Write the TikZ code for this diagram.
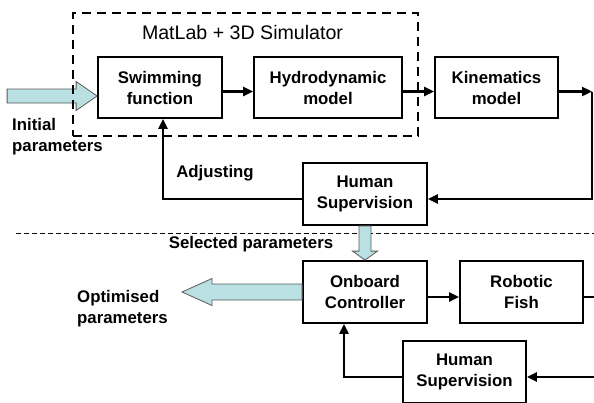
\documentclass[tikz,border=0pt]{standalone}
\usepackage{fontspec}
\setmainfont{Liberation Sans}
\usetikzlibrary{arrows.meta,calc}
\definecolor{pale}{RGB}{185,224,227}
\begin{document}
\begin{tikzpicture}[x=1pt,y=-1pt,
  box/.style={draw,line width=1.8pt,minimum width=#1,minimum height=61pt,inner sep=0pt,align=center,font=\bfseries\fontsize{16.8}{21}\selectfont},
  lbl/.style={font=\bfseries\fontsize{16.8}{21}\selectfont,align=left,inner sep=0pt},
  conn/.style={line width=2.3pt,-{Triangle[length=10pt,width=9pt]}},
  plainline/.style={line width=2.3pt},
  blockarrow/.style={fill=pale,draw=black!65,line width=0.8pt,line join=miter}]
\useasboundingbox (0,0) rectangle (594,402);
\clip (0,0) rectangle (594,402);

% boxes
\node[box=124pt] (sw) at (160,87.5) {Swimming\\function};
\node[box=148pt] (hy) at (328,87.5) {Hydrodynamic\\model};
\node[box=123pt] (ki) at (496.5,87.5) {Kinematics\\model};
\node[box=124pt,minimum height=62pt] (hs1) at (365,194) {Human\\Supervision};
\node[box=124pt,minimum height=62pt] (oc) at (365,292) {Onboard\\Controller};
\node[box=123pt,minimum height=62pt] (rf) at (521.5,292) {Robotic\\Fish};
\node[box=123pt,minimum height=62pt] (hs2) at (464.5,372) {Human\\Supervision};

% initial parameters block arrow
\coordinate (it) at (sw.west |- 0,96);
\draw[blockarrow] ($(it)+(-90,-7)$) -- ($(it)+(-21,-7)$) -- ($(it)+(-21,-14.5)$) -- (it)
  -- ($(it)+(-21,14.5)$) -- ($(it)+(-21,7)$) -- ($(it)+(-90,7)$) -- cycle;

% simulator dashed frame
\node[draw,line width=2.8pt,dash pattern=on 9pt off 6pt,minimum width=345pt,minimum height=123pt,inner sep=0pt] (sim) at (245.5,74.5) {};
\node[font=\fontsize{19.6}{22}\selectfont,inner sep=0pt] (simtitle) at (242.5,32) {MatLab + 3D Simulator};

% labels
\node[lbl,anchor=west] (ini) at (12,137) {Initial\\parameters};
\node[lbl] (adj) at (215,173) {Adjusting};
\node[lbl] (sel) at (251,244) {Selected parameters};
\node[lbl,anchor=west] (opt) at (77,309) {Optimised\\parameters};

% top chain
\draw[conn] ($(sw.east)+(0,4)$) -- ($(hy.west)+(0,4)$);
\draw[conn] ($(hy.east)+(0,4)$) -- ($(ki.west)+(0,4)$);
\coordinate (c1) at (592,91.5);
\coordinate (c2) at (592,199);
\draw[conn] ($(ki.east)+(0,4)$) -- (c1);
\draw[conn] (c1) -- (c2) -- (hs1.east |- c2);
\coordinate (c3) at (163,199);
\draw[conn] (hs1.west |- c3) -- (c3) -- (c3 |- sw.south);

% separator
\coordinate (d1) at (16,233);
\coordinate (d2) at (594,233);
\draw[line width=1pt,dash pattern=on 5pt off 3pt] (d1) -- (d2);

% selected parameters block arrow
\draw[blockarrow] ($(hs1.south)+(-6,0)$) -- ($(oc.north)+(-6,-9)$) -- ($(oc.north)+(-12.5,-9)$) -- (oc.north)
  -- ($(oc.north)+(12.5,-9)$) -- ($(oc.north)+(6,-9)$) -- ($(hs1.south)+(6,0)$) -- cycle;

% optimised parameters block arrow
\coordinate (ot) at (182,292);
\draw[blockarrow] ($(oc.west)+(0,-8)$) -- ($(ot)+(30,-8)$) -- ($(ot)+(30,-13.5)$) -- (ot)
  -- ($(ot)+(30,13.5)$) -- ($(ot)+(30,8)$) -- ($(oc.west)+(0,8)$) -- cycle;

% bottom chain
\draw[conn] ($(oc.east)+(0,5)$) -- ($(rf.west)+(0,5)$);
\coordinate (e1) at (594,297);
\draw[plainline] ($(rf.east)+(0,5)$) -- (e1);
\coordinate (e2) at (594,377);
\draw[conn] (e2) -- (hs2.east |- e2);
\coordinate (c4) at (344,377);
\draw[conn] (hs2.west |- c4) -- (c4) -- (c4 |- oc.south);
\end{tikzpicture}
\end{document}
